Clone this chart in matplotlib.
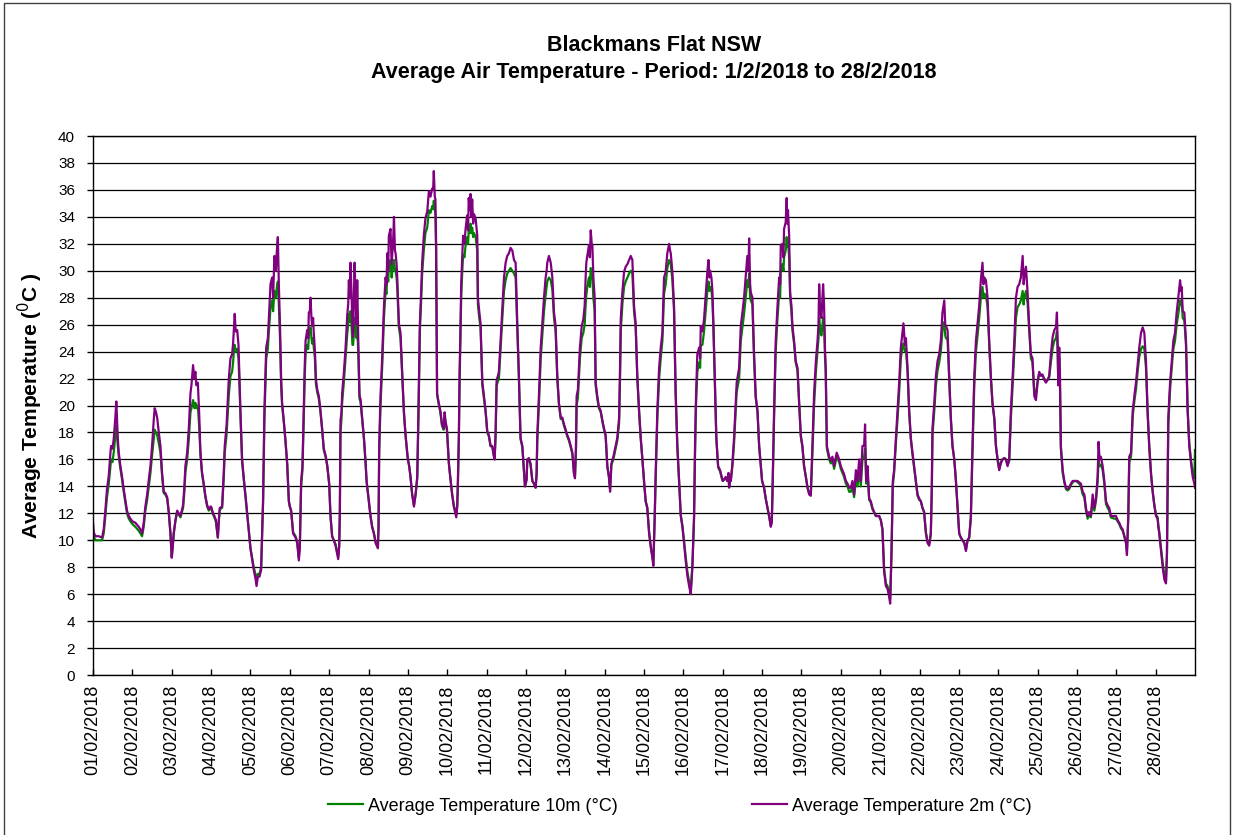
import numpy as np
import matplotlib
matplotlib.use("Agg")
import matplotlib.pyplot as plt
from matplotlib.patches import Rectangle

# hours since 01/02/2018 00:00, one sub-list per day
hours = [
    [0, 0.4, 1.4, 3.5, 5.5, 6.5, 7.5, 8.5, 9.6, 10.6, 11.0, 11.8, 12.6, 13.6, 14.2, 15.1, 15.7, 16.7, 17.7, 18.7, 19.7, 20.7, 21.8, 22.8],
    [24.0, 25.8, 27.9, 28.9, 29.9, 30.9, 31.9, 33.0, 34.0, 35.0, 36.0, 37.0, 37.6, 38.4, 39.1, 40.1, 41.1, 42.1, 43.1, 44.1, 45.2, 46.2, 47.2],
    [48.0, 48.6, 49.2, 50.3, 51.3, 52.3, 53.3, 54.9, 55.7, 56.3, 57.4, 58.4, 59.4, 60.0, 61.0, 61.8, 62.4, 63.0, 63.9, 64.7, 65.5, 66.5, 67.5, 68.5, 69.6, 70.6, 71.6],
    [72.0, 73.2, 74.0, 74.9, 76.1, 76.7, 77.3, 78.7, 79.7, 80.3, 81.4, 82.2, 82.8, 83.8, 84.8, 85.4, 86.0, 86.4, 87.0, 87.9, 88.7, 89.3, 89.9, 90.9, 92.0, 93.0, 94.0, 95.0],
    [96.0, 97.0, 98.0, 99.0, 99.7, 100.5, 101.5, 102.5, 103.1, 103.7, 104.5, 105.2, 105.6, 106.6, 107.2, 108.2, 109.2, 109.8, 110.6, 111.5, 112.1, 112.7, 113.3, 114.0, 114.7, 115.3, 116.3, 117.3, 118.4, 119.4],
    [120.0, 120.8, 122.0, 123.5, 124.5, 125.5, 126.1, 126.9, 127.7, 128.5, 129.1, 129.6, 130.6, 131.2, 131.6, 132.2, 132.6, 133.2, 133.6, 134.2, 134.6, 135.3, 135.9, 136.7, 137.7, 138.7, 139.7, 140.7, 141.8, 142.8],
    [144.0, 144.8, 145.8, 146.8, 147.9, 148.9, 149.5, 150.1, 150.5, 150.9, 151.5, 151.9, 153.0, 154.0, 155.0, 155.6, 156.0, 156.6, 157.0, 157.6, 158.2, 158.6, 159.5, 160.1, 160.7, 161.1, 161.7, 162.5, 163.1, 164.1, 165.2, 166.2, 166.8],
    [168.0, 169.2, 170.2, 171.3, 172.3, 173.7, 174.1, 174.5, 175.3, 176.3, 177.4, 178.4, 179.0, 179.4, 180.0, 180.4, 181.4, 182.1, 182.5, 183.1, 183.5, 184.1, 184.5, 185.1, 185.5, 186.5, 187.5, 188.6, 189.6, 190.6, 191.6],
    [192.0, 192.8, 193.6, 194.6, 195.7, 196.7, 197.7, 198.5, 199.3, 200.1, 200.7, 201.7, 202.7, 203.8, 204.8, 205.8, 206.8, 207.4, 207.8, 208.4, 208.8, 209.2, 209.8, 210.8, 211.8, 212.8, 213.8, 214.4, 215.0],
    [215.8, 217.0, 218.0, 219.0, 220.0, 221.5, 222.1, 222.5, 223.1, 223.5, 224.1, 224.5, 225.1, 225.7, 226.5, 227.1, 228.1, 228.7, 229.1, 229.7, 230.2, 230.7, 231.2, 231.8, 232.3, 233.3, 234.3, 234.7, 235.5, 236.3, 237.4, 238.4, 239.4],
    [240.4, 241.4, 242.4, 243.5, 244.5, 244.9, 245.5, 246.1, 246.9, 247.5, 248.5, 249.6, 250.6, 251.6, 252.6, 253.6, 254.6, 255.7, 256.7, 257.7, 258.7, 259.7, 260.7, 261.8, 262.8, 263.4],
    [264.4, 264.8, 265.8, 266.8, 267.9, 268.9, 269.9, 270.5, 270.9, 271.9, 273.0, 274.0, 275.0, 276.0, 276.6, 277.0, 278.0, 279.1, 280.1, 281.1, 282.1, 283.1, 284.1, 285.2, 286.2, 287.2],
    [288.0, 289.2, 290.2, 291.3, 292.3, 293.3, 293.9, 294.5, 294.9, 295.7, 296.9, 298.0, 299.0, 299.8, 300.4, 300.8, 301.4, 302.4, 303.0, 303.5, 304.1, 304.5, 305.1, 305.9, 306.5, 307.5, 308.5, 309.6, 310.6, 311.6],
    [312.6, 313.6, 314.6, 315.3, 316.1, 317.3, 318.7, 319.7, 320.8, 321.4, 321.8, 322.8, 323.8, 324.8, 325.9, 326.9, 327.9, 328.9, 329.9, 330.9, 331.9, 333.0, 334.0, 335.0],
    [336.0, 337.0, 338.0, 339.1, 340.1, 341.1, 341.7, 342.5, 343.1, 344.1, 345.2, 346.2, 347.2, 348.2, 349.2, 350.2, 351.3, 351.9, 352.3, 353.3, 354.3, 355.3, 356.3, 357.4, 358.4, 359.4],
    [360.0, 360.4, 361.4, 362.4, 363.5, 364.5, 365.5, 366.5, 367.1, 367.7, 368.5, 369.6, 370.2, 370.6, 371.6, 372.6, 373.6, 374.6, 375.3, 375.9, 376.3, 377.1, 377.7, 378.3, 379.1, 380.1, 381.2, 382.4, 383.4],
    [384.0, 384.8, 385.8, 386.8, 387.5, 387.9, 388.5, 388.9, 389.9, 390.9, 392.5, 394.0, 395.0, 396.0, 397.0, 398.0, 399.0, 399.7, 400.1, 400.7, 401.1, 402.1, 403.1, 404.1, 405.2, 406.2, 407.2],
    [408.0, 409.2, 410.2, 411.3, 412.3, 413.3, 413.9, 414.3, 415.3, 416.3, 417.4, 418.4, 419.0, 419.4, 420.4, 421.0, 421.4, 422.4, 423.0, 423.4, 423.8, 424.5, 425.1, 425.9, 426.5, 427.5, 428.5, 429.6, 430.6, 431.6],
    [432.6, 433.6, 434.7, 435.7, 436.7, 437.7, 438.7, 439.7, 440.8, 441.8, 442.4, 442.8, 443.4, 444.2, 444.8, 445.2, 445.8, 446.4, 446.8, 447.5, 448.9, 449.9, 450.9, 451.9, 453.5, 455.0],
    [456.0, 457.0, 458.0, 459.1, 460.1, 461.1, 462.1, 463.1, 464.1, 465.2, 466.2, 467.2, 468.2, 469.2, 470.2, 470.8, 471.5, 472.3, 473.3, 474.3, 475.3, 477.4, 479.4],
    [480.0, 480.4, 481.4, 482.4, 483.5, 484.5, 485.5, 486.1, 486.9, 487.7, 488.5, 489.6, 490.6, 491.6, 492.6, 493.6, 494.2, 495.1, 495.7, 496.7, 497.7, 498.7, 499.7, 500.7, 501.8, 502.8, 503.8],
    [504.8, 505.8, 506.8, 507.9, 508.9, 509.9, 510.9, 511.5, 511.9, 513.0, 514.0, 515.0, 516.0, 517.0, 518.0, 519.1, 519.7, 520.1, 521.1, 522.1, 523.1, 524.1, 525.2, 526.2, 527.2],
    [528.2, 529.2, 530.2, 531.3, 532.3, 533.3, 534.3, 535.3, 536.3, 537.4, 538.4, 539.4, 540.4, 541.4, 542.4, 543.0, 543.5, 544.5, 545.5, 546.5, 547.5, 548.5, 549.6, 550.6, 551.6],
    [552.6, 553.6, 554.6, 555.7, 556.7, 557.7, 558.7, 559.7, 560.8, 561.8, 562.8, 563.8, 564.8, 565.8, 566.9, 567.5, 567.9, 568.9, 569.9, 570.9, 571.9, 572.9, 574.0, 575.0],
    [576.0, 577.0, 578.0, 579.0, 580.1, 581.1, 582.1, 583.1, 584.1, 585.2, 586.2, 587.2, 587.8, 588.2, 588.6, 589.2, 589.6, 590.2, 591.3, 592.3, 593.3, 594.3, 595.3, 596.3, 597.4, 598.4, 599.4],
    [600.4, 601.4, 602.4, 603.5, 604.5, 605.5, 606.5, 607.5, 608.5, 609.6, 610.6, 611.6, 612.6, 613.2, 613.8, 614.6, 615.7, 616.7, 617.7, 618.7, 619.7, 620.7, 622.8, 623.8],
    [624.8, 625.8, 626.8, 627.9, 628.9, 629.9, 630.5, 631.3, 631.9, 633.0, 634.0, 635.0, 636.0, 637.0, 638.0, 639.1, 640.1, 641.1, 642.1, 643.1, 644.1, 645.2, 646.2, 647.2],
    [648.2, 649.2, 649.6, 650.2, 651.3, 652.3, 653.3, 654.3, 654.9, 655.7, 656.8, 657.8, 658.8, 659.8, 660.8, 661.8, 662.9, 663.5, 663.9, 664.5, 665.5, 666.5, 667.5, 668.5, 669.6, 670.6, 671.6, 672.0],
]

temp_2m = [
    [11.3, 10.6, 10.3, 10.3, 10.2, 10.8, 12.2, 13.8, 14.8, 16.5, 17.0, 16.8, 17.5, 19.1, 20.3, 17.5, 16.5, 15.5, 14.7, 13.8, 13.0, 12.2, 11.8, 11.6],
    [11.4, 11.3, 11.0, 10.8, 10.5, 11.3, 12.5, 13.4, 14.5, 15.5, 17.0, 18.9, 19.8, 19.5, 19.1, 18.0, 17.0, 15.0, 13.6, 13.5, 13.2, 12.1, 10.5],
    [8.7, 9.5, 10.5, 11.5, 12.2, 12.0, 11.8, 12.6, 14.0, 15.5, 16.5, 18.3, 20.9, 21.5, 23.0, 22.0, 22.5, 21.5, 21.7, 19.5, 16.5, 15.0, 14.2, 13.3, 12.6, 12.3, 12.5],
    [12.5, 12.0, 11.8, 11.5, 10.2, 11.5, 12.4, 12.5, 15.0, 17.0, 18.5, 20.5, 22.0, 23.5, 23.8, 24.6, 26.0, 26.8, 25.5, 25.6, 24.5, 22.0, 19.5, 16.0, 14.5, 13.3, 12.0, 10.7],
    [9.4, 8.6, 7.8, 7.2, 6.6, 7.3, 7.3, 7.8, 10.5, 13.1, 19.6, 22.5, 24.3, 25.0, 26.4, 29.0, 29.5, 28.0, 31.1, 30.0, 31.5, 32.5, 29.0, 26.0, 22.0, 20.2, 18.9, 17.5, 15.7, 12.9],
    [12.5, 12.2, 10.5, 10.2, 9.8, 8.5, 9.5, 14.4, 15.5, 19.6, 23.0, 24.8, 25.6, 25.0, 26.9, 27.0, 28.0, 26.5, 25.9, 26.5, 25.4, 24.1, 22.0, 21.2, 20.7, 19.6, 18.3, 16.8, 16.3, 15.6],
    [14.2, 11.8, 10.3, 10.0, 9.6, 9.0, 8.6, 9.5, 12.0, 18.9, 19.5, 20.9, 22.5, 24.3, 26.7, 27.5, 29.3, 28.0, 30.6, 28.5, 25.5, 25.1, 30.6, 28.0, 26.0, 29.3, 25.1, 20.7, 20.5, 19.1, 17.6, 15.8, 14.4],
    [13.1, 11.8, 11.0, 10.5, 9.8, 9.4, 11.0, 17.0, 20.7, 23.5, 27.4, 29.5, 29.0, 31.3, 30.0, 32.6, 33.1, 30.5, 31.3, 32.5, 34.0, 31.5, 31.3, 30.5, 29.5, 26.1, 25.4, 22.2, 19.5, 17.8, 16.5],
    [16.0, 15.5, 14.7, 13.4, 12.5, 13.4, 14.7, 20.0, 26.1, 28.5, 30.6, 32.6, 33.9, 34.4, 35.9, 35.5, 36.1, 36.0, 37.4, 35.5, 35.3, 32.0, 20.9, 20.2, 19.6, 18.6, 18.3, 19.5, 18.8],
    [18.3, 15.7, 14.5, 13.4, 12.5, 11.7, 12.5, 14.4, 18.0, 22.2, 26.0, 29.0, 31.0, 32.6, 32.0, 33.0, 34.1, 33.0, 35.4, 34.5, 35.7, 34.0, 35.3, 33.5, 34.2, 33.9, 32.6, 28.0, 27.0, 26.1, 21.7, 20.7, 19.6],
    [18.1, 17.8, 17.0, 17.0, 16.2, 16.0, 18.0, 21.9, 22.2, 22.5, 24.8, 27.4, 29.5, 30.6, 31.1, 31.3, 31.7, 31.5, 30.8, 30.6, 26.1, 22.2, 17.6, 17.0, 15.2, 14.0],
    [14.5, 16.0, 16.1, 15.7, 14.4, 14.2, 13.9, 15.0, 17.8, 20.7, 24.3, 26.1, 28.0, 29.5, 30.0, 30.6, 31.1, 30.6, 29.5, 26.9, 25.9, 22.2, 20.2, 19.1, 19.1, 18.6],
    [18.3, 17.8, 17.5, 17.0, 16.5, 14.9, 14.6, 17.0, 20.7, 21.2, 24.3, 25.9, 26.4, 27.4, 29.5, 30.6, 31.1, 31.9, 31.0, 33.0, 32.0, 31.9, 29.5, 28.0, 21.7, 20.7, 19.9, 19.6, 18.9, 18.3],
    [17.8, 15.5, 14.7, 13.6, 15.7, 16.2, 17.0, 17.6, 19.1, 23.0, 26.4, 28.4, 29.9, 30.3, 30.5, 30.8, 31.1, 30.8, 27.4, 26.1, 22.2, 19.6, 17.6, 16.0],
    [14.4, 12.9, 12.4, 10.5, 9.5, 8.7, 8.1, 11.8, 14.9, 19.6, 22.8, 24.3, 25.4, 29.5, 29.9, 31.3, 32.0, 31.5, 31.3, 29.9, 27.4, 20.9, 17.0, 14.4, 11.8, 11.0],
    [10.3, 9.8, 8.5, 7.4, 6.6, 6.0, 8.0, 11.8, 17.0, 20.7, 23.8, 24.3, 23.5, 25.9, 25.5, 26.4, 28.2, 29.9, 30.8, 29.5, 30.0, 29.5, 28.5, 26.1, 22.2, 17.6, 15.5, 15.2, 14.7],
    [14.4, 14.5, 14.7, 14.4, 15.0, 13.9, 14.5, 14.4, 15.7, 17.6, 21.7, 22.8, 25.9, 26.9, 28.0, 29.5, 31.1, 30.0, 32.4, 29.0, 28.4, 28.0, 23.8, 20.7, 19.6, 17.0, 15.5],
    [14.4, 13.9, 13.1, 12.4, 11.8, 11.0, 11.3, 13.4, 19.6, 24.8, 27.4, 29.5, 29.0, 31.9, 32.0, 31.0, 33.1, 33.6, 35.4, 33.5, 34.5, 32.6, 28.4, 27.4, 25.9, 24.8, 23.3, 22.8, 20.2, 17.8],
    [17.0, 15.5, 14.7, 13.9, 13.4, 13.3, 17.0, 20.9, 23.3, 24.8, 26.0, 29.0, 27.0, 26.5, 28.0, 29.0, 27.4, 24.0, 22.8, 17.0, 16.2, 15.9, 16.2, 15.5, 16.5, 16.0],
    [15.5, 15.2, 14.9, 14.4, 14.2, 13.9, 13.9, 14.4, 13.4, 15.2, 14.4, 16.0, 14.4, 17.0, 17.0, 18.6, 14.4, 15.5, 13.1, 12.9, 12.4, 11.8, 11.8],
    [11.6, 11.5, 10.8, 7.7, 6.6, 6.4, 5.8, 5.3, 9.0, 14.4, 15.2, 17.6, 19.6, 21.7, 24.3, 25.4, 26.1, 24.5, 25.0, 22.8, 19.6, 17.6, 16.5, 15.5, 14.4, 13.4, 13.1],
    [12.9, 12.4, 12.1, 10.5, 9.8, 9.6, 10.5, 14.0, 18.3, 20.2, 22.2, 23.3, 23.8, 24.8, 26.9, 27.8, 26.0, 25.9, 25.6, 22.2, 19.1, 17.0, 16.0, 14.4, 12.4],
    [10.5, 10.2, 10.0, 9.8, 9.2, 10.0, 10.2, 11.8, 17.0, 22.2, 24.8, 26.1, 27.4, 29.3, 30.6, 29.0, 29.5, 29.3, 28.0, 24.8, 22.2, 20.2, 19.1, 17.0, 16.0],
    [15.2, 15.7, 16.0, 16.1, 16.0, 15.5, 16.0, 19.6, 22.2, 24.8, 28.0, 28.8, 29.0, 29.5, 31.1, 29.0, 29.5, 30.3, 28.4, 25.9, 23.8, 23.5, 20.7, 20.4],
    [21.7, 22.5, 22.2, 22.3, 21.9, 21.7, 21.9, 22.2, 23.8, 25.1, 25.6, 25.8, 26.9, 24.8, 21.5, 24.3, 22.5, 17.0, 15.2, 14.4, 13.9, 13.8, 13.9, 14.2, 14.4, 14.4, 14.4],
    [14.4, 14.3, 14.2, 13.6, 13.4, 12.4, 11.8, 12.1, 11.8, 13.4, 12.4, 13.1, 14.7, 17.3, 16.0, 16.2, 15.5, 14.4, 12.9, 12.6, 12.4, 11.8, 11.8, 11.8],
    [11.5, 11.3, 11.0, 10.8, 10.3, 9.8, 8.9, 11.8, 16.2, 16.5, 19.6, 20.7, 21.7, 23.0, 24.3, 25.4, 25.8, 25.4, 23.3, 19.6, 17.0, 14.9, 13.6, 12.6],
    [11.8, 11.6, 11.0, 10.5, 9.2, 8.0, 7.1, 6.8, 9.0, 19.1, 21.7, 23.3, 24.8, 25.4, 26.9, 28.0, 29.3, 28.5, 28.8, 27.0, 26.9, 24.8, 19.6, 17.0, 15.7, 14.7, 14.2, 13.9],
]

temp_10m = [
    [11.0, 10.3, 10.0, 10.0, 10.0, 10.5, 11.8, 13.2, 14.2, 15.5, 16.0, 15.8, 16.5, 17.8, 18.5, 17.0, 16.2, 15.3, 14.5, 13.6, 12.8, 12.0, 11.6, 11.4],
    [11.2, 11.0, 10.7, 10.5, 10.3, 11.0, 12.2, 13.0, 14.0, 15.0, 16.3, 17.5, 18.2, 18.0, 17.8, 17.2, 16.5, 14.8, 13.5, 13.4, 13.1, 12.0, 10.5],
    [8.8, 9.6, 10.5, 11.5, 12.1, 11.9, 11.7, 12.4, 13.6, 15.0, 16.0, 17.5, 19.5, 19.8, 20.4, 19.8, 20.2, 19.8, 20.0, 18.5, 16.3, 14.9, 14.1, 13.2, 12.5, 12.2, 12.4],
    [12.4, 11.9, 11.7, 11.4, 10.2, 11.4, 12.3, 12.4, 14.6, 16.5, 17.8, 19.5, 20.8, 22.2, 22.5, 23.2, 24.2, 24.5, 24.0, 24.2, 23.5, 21.5, 19.2, 15.8, 14.4, 13.2, 11.9, 10.7],
    [9.4, 8.7, 8.0, 7.5, 7.0, 7.5, 7.5, 8.0, 10.5, 12.8, 19.0, 21.8, 23.5, 24.2, 25.5, 27.2, 27.8, 27.0, 28.5, 28.0, 28.8, 29.2, 27.5, 25.0, 21.5, 20.0, 18.8, 17.4, 15.6, 12.9],
    [12.5, 12.2, 10.6, 10.3, 9.9, 8.7, 9.6, 14.0, 15.2, 19.0, 22.2, 23.8, 24.5, 24.2, 25.2, 25.5, 25.8, 25.0, 24.6, 25.0, 24.3, 23.5, 21.6, 21.0, 20.5, 19.5, 18.2, 16.7, 16.2, 15.5],
    [14.2, 11.8, 10.3, 10.0, 9.7, 9.1, 8.8, 9.6, 12.0, 18.0, 19.0, 20.2, 21.8, 23.5, 25.3, 26.0, 26.8, 26.2, 27.0, 26.0, 24.5, 24.5, 26.5, 25.8, 25.0, 26.0, 24.0, 20.5, 20.3, 19.0, 17.5, 15.7, 14.4],
    [13.1, 11.8, 11.0, 10.5, 9.9, 9.5, 11.0, 16.5, 20.0, 22.8, 26.5, 28.5, 28.3, 29.8, 29.2, 30.5, 30.8, 29.5, 30.0, 30.5, 30.8, 30.0, 30.0, 29.5, 28.8, 25.8, 25.0, 22.0, 19.4, 17.7, 16.4],
    [16.0, 15.5, 14.7, 13.4, 12.6, 13.4, 14.6, 19.5, 25.5, 27.8, 29.8, 31.5, 32.8, 33.2, 34.5, 34.3, 34.8, 34.6, 35.2, 34.5, 34.2, 31.5, 20.8, 20.1, 19.5, 18.5, 18.2, 19.2, 18.6],
    [18.2, 15.7, 14.5, 13.4, 12.6, 11.9, 12.6, 14.2, 17.5, 21.5, 25.2, 28.0, 29.8, 31.2, 31.0, 31.8, 32.5, 32.0, 33.0, 32.8, 33.5, 32.8, 33.2, 32.5, 32.8, 32.5, 31.5, 27.5, 26.5, 25.8, 21.5, 20.5, 19.5],
    [18.0, 17.7, 17.0, 16.9, 16.2, 16.0, 17.8, 21.5, 21.8, 22.0, 24.2, 26.5, 28.5, 29.3, 29.8, 30.0, 30.2, 30.0, 29.8, 29.5, 25.8, 22.0, 17.5, 16.9, 15.1, 14.0],
    [14.5, 15.9, 16.0, 15.6, 14.4, 14.2, 13.9, 14.8, 17.3, 20.0, 23.5, 25.3, 27.0, 28.2, 28.8, 29.2, 29.5, 29.3, 28.6, 26.5, 25.5, 22.0, 20.1, 19.0, 19.0, 18.5],
    [18.2, 17.7, 17.4, 16.9, 16.4, 15.0, 14.8, 16.6, 20.0, 20.6, 23.5, 25.0, 25.4, 26.0, 27.5, 28.2, 28.8, 29.5, 28.8, 30.2, 29.8, 29.6, 28.0, 27.0, 21.5, 20.5, 19.8, 19.5, 18.8, 18.2],
    [17.7, 15.5, 14.7, 13.8, 15.6, 16.0, 16.8, 17.4, 18.7, 22.2, 25.5, 27.5, 28.8, 29.2, 29.5, 29.8, 30.0, 29.8, 27.0, 25.8, 22.0, 19.5, 17.5, 16.0],
    [14.3, 12.9, 12.4, 10.6, 9.6, 8.8, 8.3, 11.5, 14.5, 19.0, 22.0, 23.5, 24.8, 28.3, 29.0, 30.2, 30.8, 30.6, 30.5, 29.3, 27.0, 20.8, 17.0, 14.4, 11.9, 11.1],
    [10.4, 10.0, 8.8, 7.7, 6.9, 6.3, 8.2, 11.5, 16.3, 20.0, 22.5, 23.2, 22.8, 24.5, 24.5, 25.5, 27.0, 28.5, 29.2, 28.5, 28.8, 28.6, 27.8, 25.8, 22.0, 17.5, 15.4, 15.1, 14.6],
    [14.4, 14.5, 14.6, 14.4, 14.8, 14.0, 14.4, 14.4, 15.5, 17.2, 21.0, 22.0, 24.8, 25.8, 26.8, 28.0, 29.3, 28.8, 29.8, 28.0, 27.8, 27.5, 23.5, 20.6, 19.5, 17.0, 15.5],
    [14.4, 13.9, 13.1, 12.4, 11.8, 11.1, 11.4, 13.2, 19.0, 24.0, 26.5, 28.3, 28.0, 30.0, 30.5, 30.0, 31.0, 31.5, 32.5, 31.8, 32.2, 31.0, 28.0, 27.0, 25.6, 24.6, 23.2, 22.6, 20.1, 17.7],
    [16.9, 15.5, 14.7, 13.9, 13.5, 13.4, 16.5, 20.0, 22.5, 24.0, 25.0, 26.5, 25.5, 25.2, 26.0, 26.5, 26.0, 23.5, 22.5, 16.8, 16.0, 15.7, 16.0, 15.3, 16.2, 15.8],
    [15.3, 15.0, 14.7, 14.2, 14.0, 13.6, 13.6, 14.0, 13.2, 14.5, 14.0, 15.2, 14.0, 16.0, 16.2, 16.8, 14.2, 15.0, 13.0, 12.8, 12.3, 11.8, 11.8],
    [11.6, 11.5, 10.8, 7.9, 6.8, 6.6, 6.0, 5.6, 9.0, 14.0, 15.0, 17.2, 19.0, 21.0, 23.5, 24.3, 24.6, 24.0, 24.2, 22.5, 19.5, 17.5, 16.4, 15.4, 14.3, 13.3, 13.0],
    [12.9, 12.4, 12.1, 10.6, 9.9, 9.7, 10.5, 13.8, 17.8, 19.6, 21.5, 22.6, 23.2, 24.0, 25.6, 26.2, 25.2, 25.0, 24.9, 22.0, 19.0, 17.0, 16.0, 14.4, 12.4],
    [10.5, 10.2, 10.0, 9.8, 9.3, 10.0, 10.2, 11.6, 16.5, 21.5, 24.0, 25.2, 26.5, 28.0, 28.8, 28.0, 28.3, 28.2, 27.3, 24.5, 22.0, 20.1, 19.0, 17.0, 16.0],
    [15.3, 15.8, 16.0, 16.1, 16.0, 15.6, 15.9, 19.0, 21.5, 24.0, 26.5, 27.3, 27.5, 27.8, 28.5, 27.5, 28.0, 28.5, 27.6, 25.5, 23.5, 23.2, 21.0, 20.8],
    [21.8, 22.4, 22.3, 22.2, 22.0, 21.8, 21.9, 22.1, 23.2, 24.3, 24.8, 25.0, 25.5, 24.2, 21.8, 23.5, 22.0, 16.8, 15.0, 14.3, 13.8, 13.7, 13.8, 14.1, 14.3, 14.4, 14.4],
    [14.3, 14.2, 14.0, 13.4, 13.2, 12.2, 11.6, 11.9, 11.7, 13.0, 12.2, 12.9, 14.3, 16.0, 15.5, 15.6, 15.2, 14.2, 12.7, 12.4, 12.2, 11.7, 11.6, 11.6],
    [11.4, 11.2, 10.9, 10.7, 10.3, 9.9, 9.2, 11.6, 15.8, 16.2, 19.2, 20.3, 21.2, 22.5, 23.6, 24.2, 24.4, 24.2, 22.8, 19.4, 16.9, 14.9, 13.6, 12.6],
    [11.9, 11.7, 11.2, 10.6, 9.4, 8.3, 7.4, 7.0, 9.0, 18.5, 21.2, 22.8, 24.2, 24.8, 26.0, 26.8, 27.8, 27.5, 27.8, 26.5, 26.3, 24.5, 19.8, 17.2, 15.9, 15.0, 14.6, 16.7],
]

day_labels = ["%02d/02/2018" % d for d in range(1, 29)]
y_ticks = list(range(0, 41, 2))

for i, (h, a, b) in enumerate(zip(hours, temp_2m, temp_10m)):
    assert len(h) == len(a) == len(b), (i, len(h), len(a), len(b))

x = np.concatenate([np.asarray(h) for h in hours]) / 24.0
y2 = np.concatenate(temp_2m)
y10 = np.concatenate(temp_10m)

plt.rcParams["font.family"] = ["Liberation Sans", "DejaVu Sans"]

fig = plt.figure(figsize=(12.34, 8.35), dpi=100)
ax = fig.add_axes([0.0754, 0.1916, 0.893, 0.6455])

ax.plot(x, y10, color="#008000", lw=1.6, label="Average Temperature 10m (°C)")
ax.plot(x, y2, color="#800080", lw=1.6, label="Average Temperature 2m (°C)")

ax.set_xlim(0, 28)
ax.set_ylim(0, 40)
ax.set_yticks(y_ticks)
ax.set_xticks(range(28))
ax.set_xticklabels(day_labels, rotation=90, fontsize=13)
ax.tick_params(axis="y", direction="out", length=4.5, labelsize=11, width=1, pad=8.5)
ax.tick_params(axis="x", direction="in", length=4, width=1, pad=7)
ax.grid(axis="y", color="black", lw=0.9)
ax.set_axisbelow(True)
for s in ax.spines.values():
    s.set_linewidth(1)
    s.set_color("black")

ax.set_ylabel("Average Temperature ($^{0}$C )", fontsize=15, fontweight="bold", labelpad=9)

fig.text(0.530, 0.946, "Blackmans Flat NSW", ha="center", va="center",
         fontsize=15.5, fontweight="bold")
fig.text(0.530, 0.913, "Average Air Temperature - Period: 1/2/2018 to 28/2/2018",
         ha="center", va="center", fontsize=15.5, fontweight="bold")

leg = fig.legend(loc="center", bbox_to_anchor=(0.551, 0.0347), ncol=2, frameon=False,
                 handlelength=1.95, handletextpad=0.28, columnspacing=7.4,
                 prop={"size": 13})

fig.add_artist(Rectangle((0.003, -0.01), 0.994, 1.006, transform=fig.transFigure,
                         fill=False, edgecolor="#404040", lw=1))

fig.savefig("out.png", dpi=100)
